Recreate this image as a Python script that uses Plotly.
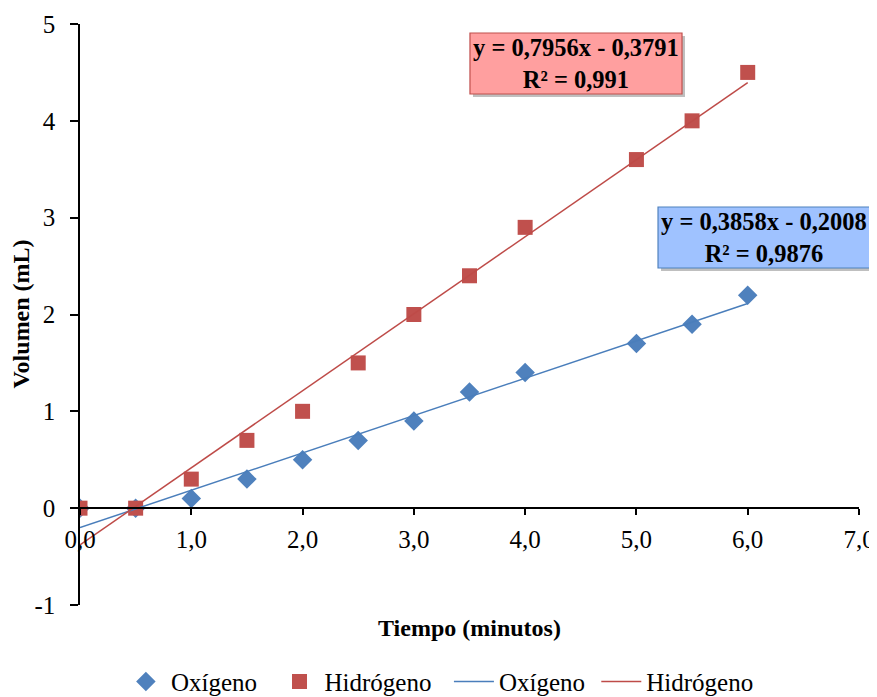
import plotly.graph_objects as go

tiempo = [0, 0.5, 1, 1.5, 2, 2.5, 3, 3.5, 4, 5, 5.5, 6]
oxigeno = [0, 0, 0.1, 0.3, 0.5, 0.7, 0.9, 1.2, 1.4, 1.7, 1.9, 2.2]
hidrogeno = [0, 0, 0.3, 0.7, 1.0, 1.5, 2.0, 2.4, 2.9, 3.6, 4.0, 4.5]

ox_slope, ox_intercept = 0.3858, -0.2008
hi_slope, hi_intercept = 0.7956, -0.3791
trend_x = [0, 6]

x_ticks = [0, 1, 2, 3, 4, 5, 6, 7]
x_ticktext = ["0,0", "1,0", "2,0", "3,0", "4,0", "5,0", "6,0", "7,0"]
y_ticks = [-1, 0, 1, 2, 3, 4, 5]
y_ticktext = ["-1", "0", "1", "2", "3", "4", "5"]

BLUE = "#4F81BD"
RED = "#C0504D"
FONT = "Liberation Serif"
NB = "\u00a0"

fig = go.Figure()
fig.add_trace(go.Scatter(x=tiempo, y=oxigeno, mode="markers", name="Oxígeno" + NB * 2,
                         marker=dict(symbol="diamond", size=15, color=BLUE)))
fig.add_trace(go.Scatter(x=tiempo, y=hidrogeno, mode="markers", name="Hidrógeno" + NB * 2,
                         marker=dict(symbol="square", size=15, color=RED)))
fig.add_trace(go.Scatter(x=trend_x, y=[ox_slope * v + ox_intercept for v in trend_x],
                         mode="lines", name="Oxígeno" + NB, line=dict(color="#4A7EBB", width=1.5)))
fig.add_trace(go.Scatter(x=trend_x, y=[hi_slope * v + hi_intercept for v in trend_x],
                         mode="lines", name="Hidrógeno", line=dict(color="#BE4B48", width=1.5)))

def eq_box(x0, x1, y0, y1, text, fill, border):
    dx, dy = 3 / 779, 3 / 581
    fig.add_shape(type="rect", xref="paper", yref="paper",
                  x0=x0 + dx, x1=x1 + dx, y0=y0 - dy, y1=y1 - dy,
                  fillcolor="rgba(0,0,0,0.25)", line=dict(width=0), layer="above")
    fig.add_shape(type="rect", xref="paper", yref="paper",
                  x0=x0, x1=x1, y0=y0, y1=y1,
                  fillcolor=fill, line=dict(color=border, width=1.2), layer="above")
    fig.add_annotation(x=(x0 + x1) / 2, y=(y0 + y1) / 2, xref="paper", yref="paper",
                       text=text, showarrow=False, xanchor="center", yanchor="middle",
                       font=dict(family=FONT, size=24.5, color="black"))

eq_box(0.5006, 0.7728, 0.8795, 0.9845, "<b>y = 0,7956x - 0,3791<br>R² = 0,991</b>", "#FF9F9F", RED)
eq_box(0.742, 1.0141, 0.580, 0.685, "<b>y = 0,3858x - 0,2008<br>R² = 0,9876</b>", "#9FC2FF", BLUE)

fig.add_annotation(x=0.5, y=-0.04, xref="paper", yref="paper", text="<b>Tiempo (minutos)</b>",
                   showarrow=False, font=dict(family=FONT, size=24, color="black"),
                   yanchor="middle")
fig.add_annotation(x=-0.077, y=0.5, xref="paper", yref="paper", text="<b>Volumen (mL)</b>",
                   showarrow=False, textangle=-90, font=dict(family=FONT, size=24, color="black"),
                   xanchor="center", yanchor="middle")

fig.update_layout(
    width=869, height=689,
    margin=dict(l=72, r=18, t=16, b=92, autoexpand=False),
    paper_bgcolor="white", plot_bgcolor="white",
    font=dict(family=FONT, size=25, color="black"),
    showlegend=True,
    legend=dict(orientation="h", x=0.462, xanchor="center", y=-0.132, yanchor="middle",
                font=dict(family=FONT, size=25, color="black"), bgcolor="rgba(0,0,0,0)",
                itemwidth=40),
    xaxis=dict(range=[0, 7], tickvals=x_ticks, ticktext=x_ticktext, anchor="free",
               position=1 / 6, showline=True, linecolor="black", linewidth=1.5,
               ticks="outside", ticklen=6, tickcolor="black", tickwidth=1.5,
               showgrid=False, zeroline=False, ticklabelstandoff=3),
    yaxis=dict(range=[-1, 5], tickvals=y_ticks, ticktext=y_ticktext, showline=True,
               linecolor="black", linewidth=1.5, ticks="outside", ticklen=8,
               tickcolor="black", tickwidth=1.5, ticklabelstandoff=10,
               showgrid=False, zeroline=False),
)

fig.write_html("out.html")
